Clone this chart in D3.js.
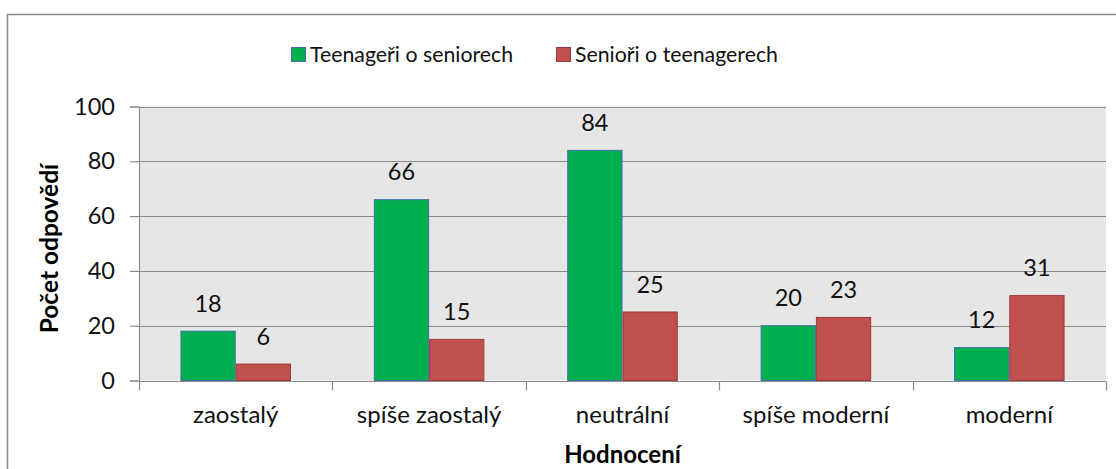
<!DOCTYPE html>
<html>
<head>
<meta charset="utf-8">
<script src="https://cdn.jsdelivr.net/npm/d3@7"></script>
<style>
  html, body { margin: 0; padding: 0; background: #fff; }
  svg { display: block; font-family: Lato, "Open Sans", sans-serif; }
</style>
</head>
<body>
<svg id="chart" width="1116" height="469"></svg>
<script>
const categories = ["zaostalý", "spíše zaostalý", "neutrální", "spíše moderní", "moderní"];
const seriesNames = ["Teenageři o seniorech", "Senioři o teenagerech"];
const teenValues = [18, 66, 84, 20, 12];
const seniorValues = [6, 15, 25, 23, 31];
const yTicks = [0, 20, 40, 60, 80, 100];
const yTitle = "Počet odpovědí";
const xTitle = "Hodnocení";

(function () {
const fills = ["#00b050", "#c0504d"];
const strokes = ["#3f6fa8", "#9c3b38"];

const svg = d3.select("#chart");

// outer frame
svg.append("rect")
  .attr("x", 7.5).attr("y", 14.5)
  .attr("width", 1120).attr("height", 470)
  .attr("fill", "#fff").attr("stroke", "#8c8c8c").attr("stroke-width", 1.6);

const pLeft = 139, pRight = 1106, pTop = 106.5, pBottom = 380.5;

const x = d3.scaleBand().domain(categories).range([pLeft, pRight]).paddingInner(0).paddingOuter(0);
const x1 = d3.scaleBand().domain(seriesNames).range([0, x.bandwidth()]).paddingInner(0).paddingOuter(0.75);
const y = d3.scaleLinear().domain([0, 100]).range([pBottom, pTop]);

// plot background
svg.append("rect")
  .attr("x", pLeft).attr("y", y(100))
  .attr("width", pRight - pLeft).attr("height", y(0) - y(100))
  .attr("fill", "#e6e6e6");

// gridlines
svg.append("g").selectAll("line").data(yTicks.filter(d => d > 0)).join("line")
  .attr("x1", pLeft).attr("x2", pRight)
  .attr("y1", d => Math.round(y(d)) + 0.5).attr("y2", d => Math.round(y(d)) + 0.5)
  .attr("stroke", "#8c8c8c").attr("stroke-width", 1.2);

// y axis
const yAxis = d3.axisLeft(y).tickValues(yTicks).tickSize(9).tickPadding(15).tickFormat(d3.format("d"));
const gy = svg.append("g").attr("transform", `translate(${pLeft},0)`).call(yAxis);
gy.select(".domain").attr("stroke", "#8c8c8c").attr("stroke-width", 1.2);
gy.selectAll(".tick line").attr("stroke", "#8c8c8c").attr("stroke-width", 1.2);
gy.selectAll(".tick text").attr("fill", "#111").style("font-size", "23.5px").style("font-family", "Lato, sans-serif");

// x axis line and boundary ticks
const gx = svg.append("g").attr("transform", `translate(0,${Math.round(y(0)) + 0.5})`);
gx.append("line").attr("x1", pLeft).attr("x2", pRight).attr("stroke", "#8c8c8c").attr("stroke-width", 1.2);
const boundaries = categories.map(c => x(c)).concat([x(categories[categories.length - 1]) + x.bandwidth()]);
gx.selectAll("line.tk").data(boundaries).join("line").attr("class", "tk")
  .attr("x1", d => Math.round(d) + 0.5).attr("x2", d => Math.round(d) + 0.5)
  .attr("y1", 0).attr("y2", 9)
  .attr("stroke", "#8c8c8c").attr("stroke-width", 1.2);
const xLab = d3.axisBottom(x).tickSize(0).tickPadding(0);
const gxl = svg.append("g").attr("transform", `translate(0,${pBottom})`).call(xLab);
gxl.select(".domain").remove();
gxl.selectAll(".tick text").attr("dy", null).attr("y", 42)
  .attr("fill", "#111").style("font-size", "24px").style("font-family", "Lato, sans-serif");

// bars
const data = categories.map((c, i) => ({ cat: c, vals: [teenValues[i], seniorValues[i]] }));
const groups = svg.append("g").selectAll("g").data(data).join("g")
  .attr("transform", d => `translate(${x(d.cat)},0)`);
groups.selectAll("rect").data(d => d.vals.map((v, j) => ({ v, s: seriesNames[j], j }))).join("rect")
  .attr("x", d => x1(d.s) + 0.5)
  .attr("y", d => y(d.v))
  .attr("width", x1.bandwidth() - 1)
  .attr("height", d => y(0) - y(d.v))
  .attr("fill", d => fills[d.j])
  .attr("stroke", d => strokes[d.j]).attr("stroke-width", 1);
groups.selectAll("text").data(d => d.vals.map((v, j) => ({ v, s: seriesNames[j], j }))).join("text")
  .attr("x", d => x1(d.s) + x1.bandwidth() / 2)
  .attr("y", d => y(d.v) - 19.5)
  .attr("text-anchor", "middle")
  .attr("fill", "#111").style("font-size", "23.5px")
  .text(d => d.v);

// axis titles
svg.append("text")
  .attr("transform", `translate(58,${(pTop + pBottom) / 2 + 5}) rotate(-90)`)
  .attr("text-anchor", "middle").attr("font-weight", "bold")
  .attr("fill", "#000").style("font-size", "24.5px")
  .text(yTitle);
svg.append("text")
  .attr("x", (pLeft + pRight) / 2).attr("y", 463)
  .attr("text-anchor", "middle").attr("font-weight", "bold")
  .attr("fill", "#000").style("font-size", "24px")
  .text(xTitle);

// legend
const legendX = [291, 556];
const lg = svg.append("g").selectAll("g").data(seriesNames).join("g")
  .attr("transform", (d, i) => `translate(${legendX[i]},47)`);
lg.append("rect").attr("x", 0.5).attr("y", 0.5).attr("width", 14).attr("height", 14)
  .attr("fill", (d, i) => fills[i]).attr("stroke", (d, i) => strokes[i]).attr("stroke-width", 1);
lg.append("text").attr("x", 19).attr("y", 15)
  .attr("fill", "#111").style("font-size", "21.3px")
  .text(d => d);
})();
</script>
</body>
</html>
